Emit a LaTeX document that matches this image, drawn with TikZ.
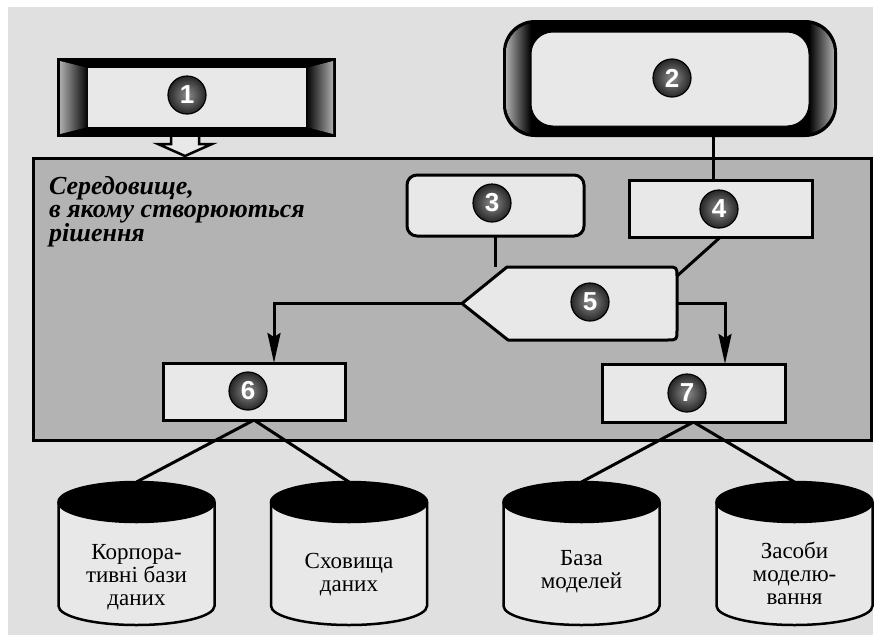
\documentclass[tikz,border=0pt]{standalone}
\usepackage{fontspec}
\setmainfont{Liberation Serif}
\newfontfamily\numfont{Liberation Sans}
\usetikzlibrary{calc,arrows.meta}
\definecolor{bgc}{HTML}{E0E0E0}
\definecolor{boxc}{HTML}{E8E8E8}
\definecolor{envc}{HTML}{B3B3B3}
\newcommand\dbcyl[4]{%
  \node[inner sep=0pt, outer sep=0pt, minimum width=156pt, minimum height=143pt] (#1) at (#2,553.5) {};
  \filldraw[fill=boxc, draw=black, line width=2.5pt] (#2-78,502) -- (#2-78,606) arc[start angle=180, end angle=360, x radius=78pt, y radius=19pt] -- (#2+78,502);
  \filldraw[black, line width=2.5pt] (#2,502) ellipse[x radius=78pt, y radius=20pt];
  \node[cyltext] at (#2,#4) {#3};
}
\begin{document}
\begin{tikzpicture}[x=1pt,y=-1pt,
  boxn/.style={draw=black, line width=3pt, fill=boxc, inner sep=0pt, outer sep=0pt},
  conn/.style={line width=3pt, draw=black},
  arr/.style={conn, -{Stealth[length=30pt,width=13pt,inset=4pt]}},
  num/.style={circle, minimum size=38pt, inner sep=0pt, draw=black, line width=1.2pt,
    inner color=black!45, outer color=black!85, text=white,
    font=\numfont\bfseries\fontsize{26}{26}\selectfont},
  cyltext/.style={align=center, inner sep=0pt, font=\fontsize{23}{23}\selectfont},
  envtext/.style={anchor=north west, align=left, inner sep=0pt, font=\fontsize{26}{23}\selectfont\bfseries\itshape},
]
\useasboundingbox (0,0) rectangle (876,635);
\fill[white] (0,0) rectangle (876,635);
\fill[bgc] (8,7) rectangle (873,635);

% environment
\node[draw=black, line width=3pt, fill=envc, minimum width=838pt, minimum height=282pt, inner sep=0pt, outer sep=0pt] (env) at (452,299) {};
\node[envtext] (envtxt) at (49,176) {Середовище,\\в якому створюються\\рішення};

% box 1
\node[minimum width=279pt, minimum height=79pt, inner sep=0pt, outer sep=0pt] (b1) at (196.5,97.5) {};
\fill[black] (b1.north west) rectangle (b1.south east);
\shade[left color=gray!65, right color=black] (60,61) -- (88,68) -- (88,127) -- (60,134) -- cycle;
\shade[left color=black, right color=gray!65] (306,68) -- (333,61) -- (333,134) -- (306,127) -- cycle;
\fill[boxc] (88,68) rectangle (306,127);

% box 2
\node[minimum width=334pt, minimum height=117pt, inner sep=0pt, outer sep=0pt] (b2) at (670,78.5) {};
\fill[black, rounded corners=32pt] (503,20) rectangle (837,137);
\begin{scope}
  \clip[rounded corners=30pt] (506,23) rectangle (834,134);
  \shade[left color=gray!65, right color=black] (506,23) rectangle (531,134);
  \shade[left color=black, right color=gray!65] (809,23) rectangle (834,134);
\end{scope}
\filldraw[fill=boxc, draw=black, line width=1pt, rounded corners=22pt] (531,32) rectangle (809,126);

% hollow arrow from box 1 into the environment
\filldraw[fill=boxc, draw=black, line width=2.5pt, line join=miter] (171,137) -- (171,144) -- (158,144) -- (185,156) -- (212,144) -- (199,144) -- (199,137);

% helper coordinates
\coordinate (c24) at (713,0);
\coordinate (c6) at (274,0);
\coordinate (c7) at (725,0);

% box 5 placeholder
\node[inner sep=0pt, outer sep=0pt, minimum width=215pt, minimum height=73pt] (b5) at (569.5,303.5) {};

% boxes 3,4,6,7 (placed so connectors can be drawn first)
\path (495.5,205.5) node[inner sep=0pt, outer sep=0pt, minimum width=177pt, minimum height=61pt] (b3) {};
\path (720.5,208.5) node[inner sep=0pt, outer sep=0pt, minimum width=183pt, minimum height=57pt] (b4) {};
\path (254,391.5) node[inner sep=0pt, outer sep=0pt, minimum width=182pt, minimum height=57pt] (b6) {};
\path (693.5,393) node[inner sep=0pt, outer sep=0pt, minimum width=183pt, minimum height=58pt] (b7) {};

% cylinders
\dbcyl{cyl1}{136.5}{Корпора-\\тивні бази\\даних}{577}
\dbcyl{cyl2}{349}{Сховища\\даних}{575}
\dbcyl{cyl3}{581.5}{База\\моделей}{572}
\dbcyl{cyl4}{794.5}{Засоби\\моделю-\\вання}{573}

% connectors
\draw[conn] (b2.south -| c24) -- (c24 |- b4.north);
\draw[conn] (b3.south) -- (b3.south |- b5.north);
\draw[conn] (b4.south) -- ($(b5.north east)+(0,9)$);
\draw[arr] (b5.west) -| (c6 |- b6.north);
\draw[arr] (b5.east) -| (c7 |- b7.north);
\draw[conn] (b6.south) -- (cyl1.north);
\draw[conn] (b6.south) -- (cyl2.north);
\draw[conn] (b7.south) -- (cyl3.north);
\draw[conn] (b7.south) -- (cyl4.north);

% boxes drawn
\node[boxn, rounded corners=10pt, minimum width=177pt, minimum height=61pt] at (b3) {};
\node[boxn, minimum width=183pt, minimum height=57pt] at (b4) {};
\node[boxn, minimum width=182pt, minimum height=57pt] at (b6) {};
\node[boxn, minimum width=183pt, minimum height=58pt] at (b7) {};
\filldraw[fill=boxc, draw=black, line width=3pt, line join=round] (b5.west) -- (507,267) -- (667,267) .. controls (677,267) .. (677,277) -- (677,330) .. controls (677,340) .. (667,340) -- (508,340) -- cycle;

% number circles
\node[num] (n1) at (187,95) {1};
\node[num] (n2) at (672,78) {2};
\node[num] (n3) at (492,203) {3};
\node[num] (n4) at (719,209) {4};
\node[num] (n5) at (590,302) {5};
\node[num] (n6) at (248,391) {6};
\node[num] (n7) at (687,393) {7};
\end{tikzpicture}
\end{document}
